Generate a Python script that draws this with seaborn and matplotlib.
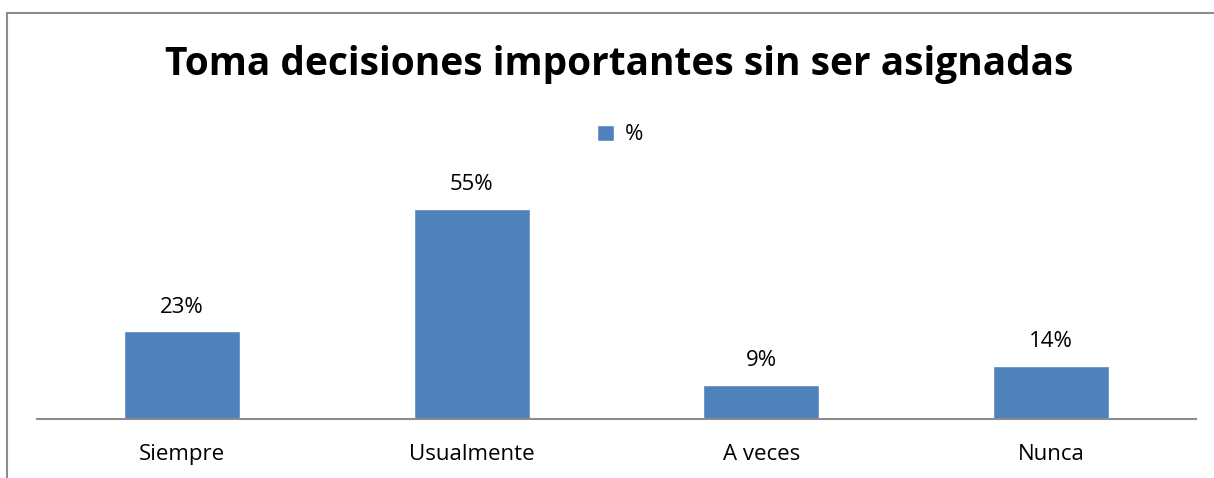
import matplotlib
matplotlib.use("Agg")
import matplotlib.pyplot as plt
import seaborn as sns
import pandas as pd
from matplotlib.lines import Line2D
from matplotlib.patches import Patch

categorias = ["Siempre", "Usualmente", "A veces", "Nunca"]
porcentajes = [23, 55, 9, 14]
etiquetas = ["23%", "55%", "9%", "14%"]
titulo = "Toma decisiones importantes sin ser asignadas"

sns.set_style("white")
plt.rcParams['font.family'] = ['Open Sans', 'DejaVu Sans']

df = pd.DataFrame({"categoria": categorias, "valor": porcentajes})

W, H = 1214, 478
fig = plt.figure(figsize=(W / 100, H / 100), dpi=100)
# axes: x 37..1196, y 152..419 (pixels from top)
ax = fig.add_axes([37 / W, 1 - 419 / H, (1196 - 37) / W, (419 - 152) / H])

sns.barplot(data=df, x="categoria", y="valor", color="#4F81BD", width=0.4,
            saturation=1, ax=ax)
ax.set_ylim(0, 70)
ax.set_xlim(-0.5, 3.5)

for i, (v, t) in enumerate(zip(porcentajes, etiquetas)):
    ax.text(i, v + 3.6, t, ha="center", va="bottom", fontsize=16, color="black")

ax.set_xlabel("")
ax.set_ylabel("")
ax.set_yticks([])
ax.tick_params(axis="x", length=0, labelsize=16, pad=18, labelcolor="black")
for s in ["top", "right", "left"]:
    ax.spines[s].set_visible(False)
ax.spines["bottom"].set_color("#8c8c8c")
ax.spines["bottom"].set_linewidth(1.5)

fig.text(619 / W, 1 - 65 / H, titulo, ha="center", va="center",
         fontsize=28, fontweight="bold", color="black")

handles = [Patch(facecolor="#4F81BD", label="%")]
fig.legend(handles=handles, loc="center", bbox_to_anchor=(620 / W, 1 - 135 / H),
           frameon=False, fontsize=16, handlelength=0.75, handleheight=0.75,
           handletextpad=0.5, labelcolor="black")

# chart frame (left and top edges)
fig.add_artist(Line2D([7 / W, 7 / W], [0, 1 - 13 / H], transform=fig.transFigure,
                      color="#8c8c8c", linewidth=1.5))
fig.add_artist(Line2D([7 / W, 1], [1 - 13 / H, 1 - 13 / H], transform=fig.transFigure,
                      color="#8c8c8c", linewidth=1.5))

fig.savefig("out.png", dpi=100)
